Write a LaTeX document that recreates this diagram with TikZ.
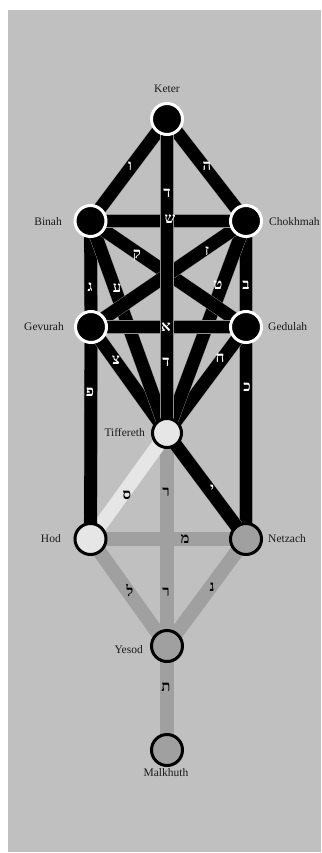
\documentclass[tikz,border=0pt]{standalone}
\usepackage{fontspec}
\setmainfont{Liberation Serif}
\newfontfamily\heb[Script=Hebrew]{Liberation Serif}
\definecolor{bgc}{HTML}{C0C0C0}
\definecolor{pgray}{HTML}{A0A0A0}
\definecolor{plight}{HTML}{E6E6E6}
\definecolor{txt}{HTML}{1A1A1A}
\pgfdeclarelayer{back}
\pgfdeclarelayer{paths}
\pgfsetlayers{back,paths,main}
\begin{document}
\begin{tikzpicture}[x=1pt,y=-1pt,
  blkpath/.style={line width=12.8pt, draw=black, preaction={draw=black!45, line width=13.6pt}},
  graypath/.style={line width=14pt, draw=pgray},
  lightpath/.style={line width=14pt, draw=plight},
  sefup/.style={circle, minimum size=31pt, inner sep=0pt, fill=black, draw=white, line width=3pt},
  seflow/.style={circle, minimum size=31pt, inner sep=0pt, draw=black, line width=3pt},
  sefname/.style={text=txt, font=\fontsize{11.5}{12}\selectfont, inner sep=0pt},
  wl/.style={text=white, font=\heb\bfseries\fontsize{15}{15}\selectfont, inner sep=0pt},
  bl/.style={text=black, font=\heb\bfseries\fontsize{15}{15}\selectfont, inner sep=0pt}
]
\useasboundingbox (0,0) rectangle (321,853);
\begin{pgfonlayer}{back}
  \fill[white] (0,0) rectangle (321,853);
  \fill[bgc] (8,10) rectangle (321,852);
\end{pgfonlayer}

% sefirot
\node[sefup] (keter) at (167,119) {};
\node[sefup] (binah) at (90.5,221) {};
\node[sefup] (chokhmah) at (246,221) {};
\node[sefup] (gevurah) at (91,327) {};
\node[sefup] (gedulah) at (246,327) {};
\node[seflow, fill=plight, minimum size=29pt] (tif) at (167,433) {};
\node[seflow, fill=plight] (hod) at (90.5,539) {};
\node[seflow, fill=pgray] (netzach) at (246,539) {};
\node[seflow, fill=pgray] (yesod) at (167,646) {};
\node[seflow, fill=pgray] (malkhuth) at (167,750) {};

% paths
\begin{pgfonlayer}{paths}
  \draw[graypath] (tif.center) -- (yesod.center);
  \draw[graypath] (hod.center) -- (netzach.center);
  \draw[graypath] (hod.center) -- (yesod.center);
  \draw[graypath] (netzach.center) -- (yesod.center);
  \draw[graypath] (yesod.center) -- (malkhuth.center);
  \draw[lightpath] (tif.center) -- (hod.center);
  \draw[blkpath] (gevurah.center) -- (hod.center);
  \draw[blkpath] (gedulah.center) -- (netzach.center);
  \draw[blkpath] (tif.center) -- (netzach.center);
  \draw[blkpath] (keter.center) -- (binah.center);
  \draw[blkpath] (keter.center) -- (chokhmah.center);
  \draw[blkpath] (binah.center) -- (gevurah.center);
  \draw[blkpath] (chokhmah.center) -- (gedulah.center);
  \draw[blkpath] (gevurah.center) -- (tif.center);
  \draw[blkpath] (gedulah.center) -- (tif.center);
  \draw[blkpath] (binah.center) -- (tif.center);
  \draw[blkpath] (chokhmah.center) -- (tif.center);
  \draw[blkpath] (binah.center) -- (gedulah.center);
  \draw[blkpath] (chokhmah.center) -- (gevurah.center);
  \draw[blkpath] (binah.center) -- (chokhmah.center);
  \draw[blkpath] (gevurah.center) -- (gedulah.center);
  \draw[blkpath] (keter.center) -- (tif.center);
\end{pgfonlayer}

% names
\node[sefname] (nketer) at (167,89) {Keter};
\node[sefname, anchor=east] (nbinah) at (62,222) {Binah};
\node[sefname, anchor=west] (nchokhmah) at (269,222) {Chokhmah};
\node[sefname, anchor=east] (ngevurah) at (64,327) {Gevurah};
\node[sefname, anchor=west] (ngedulah) at (268,327) {Gedulah};
\node[sefname, anchor=east] (ntif) at (145,433) {Tiffereth};
\node[sefname, anchor=east] (nhod) at (61,539) {Hod};
\node[sefname, anchor=west] (nnetzach) at (268,539) {Netzach};
\node[sefname, anchor=east] (nyesod) at (143,650) {Yesod};
\node[sefname] (nmalkhuth) at (166,773) {Malkhuth};

% letters
\node[wl] (l1) at (130,166) {ו};
\node[wl] (l2) at (207,166) {ה};
\node[wl] (l3) at (167,193) {ד};
\node[wl] (l4) at (170,219) {ש};
\node[wl] (l5) at (137,256) {ק};
\node[wl] (l6) at (207,251) {ז};
\node[wl] (l7) at (90,287) {ג};
\node[wl] (l8) at (117,288) {ע};
\node[wl] (l9) at (218,285) {ט};
\node[wl] (l10) at (246,285) {ב};
\node[wl] (l11) at (166,327) {א};
\node[wl] (l12) at (116,360) {צ};
\node[wl] (l13) at (166,362) {ד};
\node[wl] (l14) at (220,358) {ח};
\node[wl] (l15) at (90,392) {פ};
\node[wl] (l16) at (247,387) {כ};
\node[bl] (l17) at (127,495) {ס};
\node[bl] (l18) at (166,492) {ר};
\node[wl] (l19) at (212,489) {י};
\node[bl] (l20) at (185,539) {מ};
\node[bl] (l21) at (130,590) {ל};
\node[bl] (l22) at (166,592) {ר};
\node[bl] (l23) at (212,587) {נ};
\node[bl] (l24) at (166,687) {ת};
\end{tikzpicture}
\end{document}
